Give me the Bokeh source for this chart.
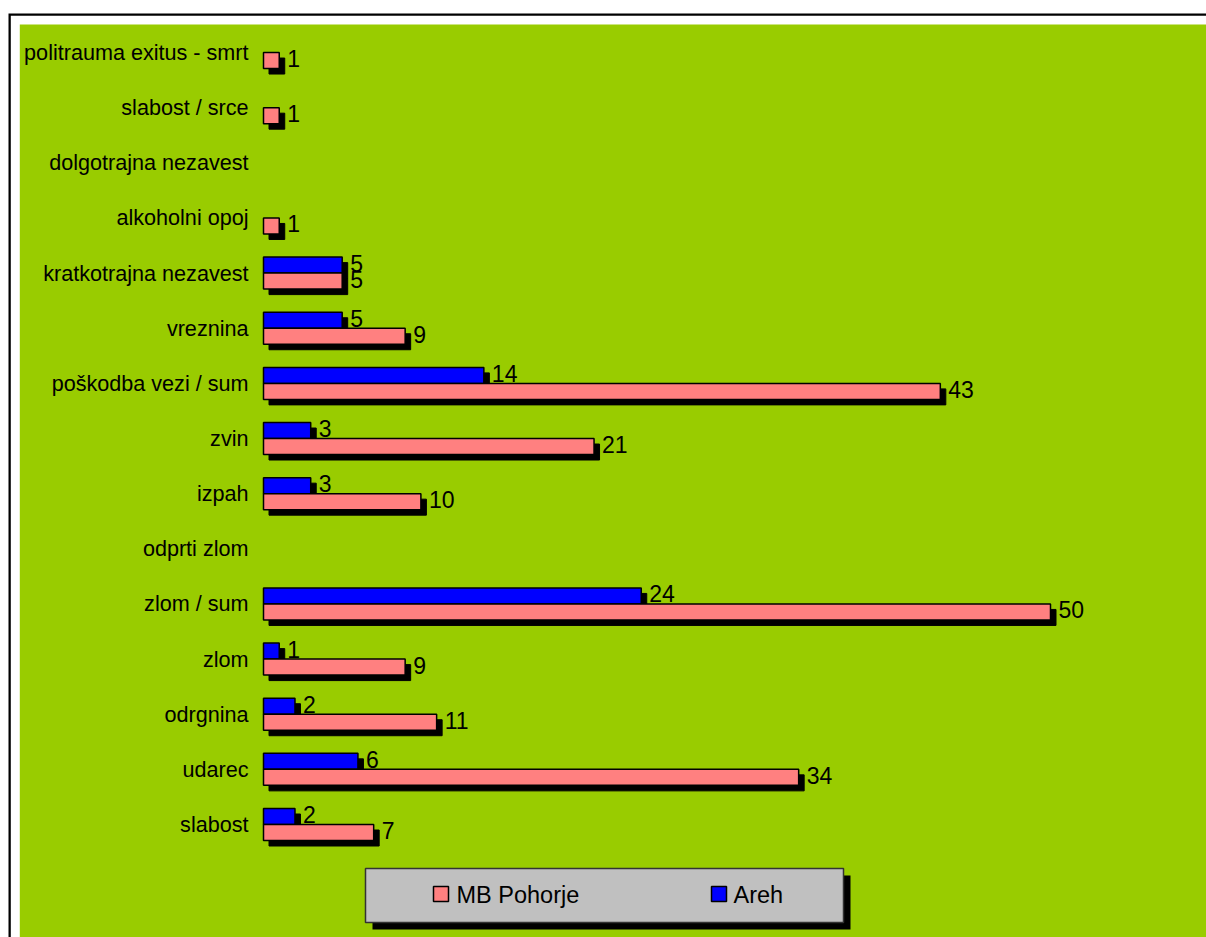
from bokeh.plotting import figure
from bokeh.models import Range1d, ColumnDataSource
from bokeh.core.properties import value
from bokeh.embed import file_html
from bokeh.resources import INLINE

# ---- data (top to bottom as shown) ----
categories = [
    "politrauma exitus - smrt", "slabost / srce", "dolgotrajna nezavest",
    "alkoholni opoj", "kratkotrajna nezavest", "vreznina",
    "poškodba vezi / sum", "zvin", "izpah", "odprti zlom", "zlom / sum",
    "zlom", "odrgnina", "udarec", "slabost",
]
mb_pohorje = [1, 1, None, 1, 5, 9, 43, 21, 10, None, 50, 9, 11, 34, 7]
areh = [None, None, None, None, 5, 5, 14, 3, 3, None, 24, 1, 2, 6, 2]
series_names = ["MB Pohorje", "Areh"]

PINK = "#FF8080"
BLUE = "#0000FF"
GREEN = "#99CC00"
GRAY = "#C0C0C0"
FONT = "Liberation Sans"

# ---- pixel geometry ----
W, H = 1206, 937
X_ZERO = 263.0      # px of value 0
K = 15.74           # px per unit
Y_BASE = 824.0      # px (from top) of the bottom category centre
ROW = 55.14         # px per category
BAR_PX = 16.0
SH = 5.5            # shadow offset px


def px2x(px):
    return (px - X_ZERO) / K


def px2y(py):
    return (Y_BASE - py) / ROW


p = figure(width=W, height=H, output_backend="svg", toolbar_location=None,
           x_range=Range1d(px2x(0), px2x(W)), y_range=Range1d(px2y(H), px2y(0)),
           min_border=0, min_border_left=0, min_border_right=0,
           min_border_top=0, min_border_bottom=0)
p.axis.visible = False
p.grid.visible = False
p.outline_line_color = None
p.background_fill_color = "white"
p.border_fill_color = "white"

# frame: black line, white gap, green area
p.quad(left=px2x(8), right=px2x(1240), top=px2y(13), bottom=px2y(980),
       fill_color="black", line_color=None)
p.quad(left=px2x(10.3), right=px2x(1240), top=px2y(15.3), bottom=px2y(980),
       fill_color="white", line_color=None)
p.quad(left=px2x(19.3), right=px2x(1240), top=px2y(24), bottom=px2y(980),
       fill_color=GREEN, line_color=None)

n = len(categories)
h = BAR_PX / ROW
dx = SH / K
dy = SH / ROW

rows = {"pink": ([], [], []), "blue": ([], [], [])}
for j, cat in enumerate(categories):
    i = n - 1 - j
    if mb_pohorje[j] is not None:
        rows["pink"][0].append(i - h / 2)
        rows["pink"][1].append(mb_pohorje[j])
        rows["pink"][2].append(str(mb_pohorje[j]))
    if areh[j] is not None:
        rows["blue"][0].append(i + h / 2)
        rows["blue"][1].append(areh[j])
        rows["blue"][2].append(str(areh[j]))


def make_src(key):
    ys, vs, ts = rows[key]
    return ColumnDataSource(dict(
        y=ys, v=vs, t=ts,
        ys=[y - dy for y in ys],
        vs=[v + dx for v in vs],
        vt=[v + 8 / K for v in vs],
        yt=[y + 2 / ROW for y in ys]))


src_p = make_src("pink")
src_b = make_src("blue")

# shadows
for src in (src_b, src_p):
    p.hbar(y="ys", left=dx, right="vs", height=h, source=src,
           fill_color="black", line_color="black", line_width=1)
# bars
p.hbar(y="y", left=0, right="v", height=h, source=src_b,
       fill_color=BLUE, line_color="black", line_width=1.5)
p.hbar(y="y", left=0, right="v", height=h, source=src_p,
       fill_color=PINK, line_color="black", line_width=1.5)

# value labels
for src in (src_b, src_p):
    p.text(x="vt", y="yt", text="t", source=src, text_font=value(FONT),
           text_font_size="23px", text_color="black",
           text_align="left", text_baseline="middle")

# category labels
cat_src = ColumnDataSource(dict(x=[px2x(248)] * n,
                                y=[n - 1 - j for j in range(n)],
                                t=categories))
p.text(x="x", y="y", text="t", source=cat_src, text_font=value(FONT),
       text_font_size="21.6px", text_color="black",
       text_align="right", text_baseline="middle")

# legend box with shadow
p.quad(left=px2x(372), right=px2x(850), top=px2y(875), bottom=px2y(929),
       fill_color="black", line_color=None)
p.quad(left=px2x(365), right=px2x(843), top=px2y(868), bottom=px2y(922),
       fill_color=GRAY, line_color="#333333", line_width=1.5)
p.quad(left=[px2x(433), px2x(711)], right=[px2x(448), px2x(726)],
       top=[px2y(886)] * 2, bottom=[px2y(901)] * 2,
       fill_color=[PINK, BLUE], line_color="black", line_width=1.5)
p.text(x=[px2x(456), px2x(733)], y=[px2y(894)] * 2, text=series_names,
       text_font=value(FONT), text_font_size="23.5px", text_color="black",
       text_align="left", text_baseline="middle")

open("out.html", "w").write(file_html(p, INLINE))
